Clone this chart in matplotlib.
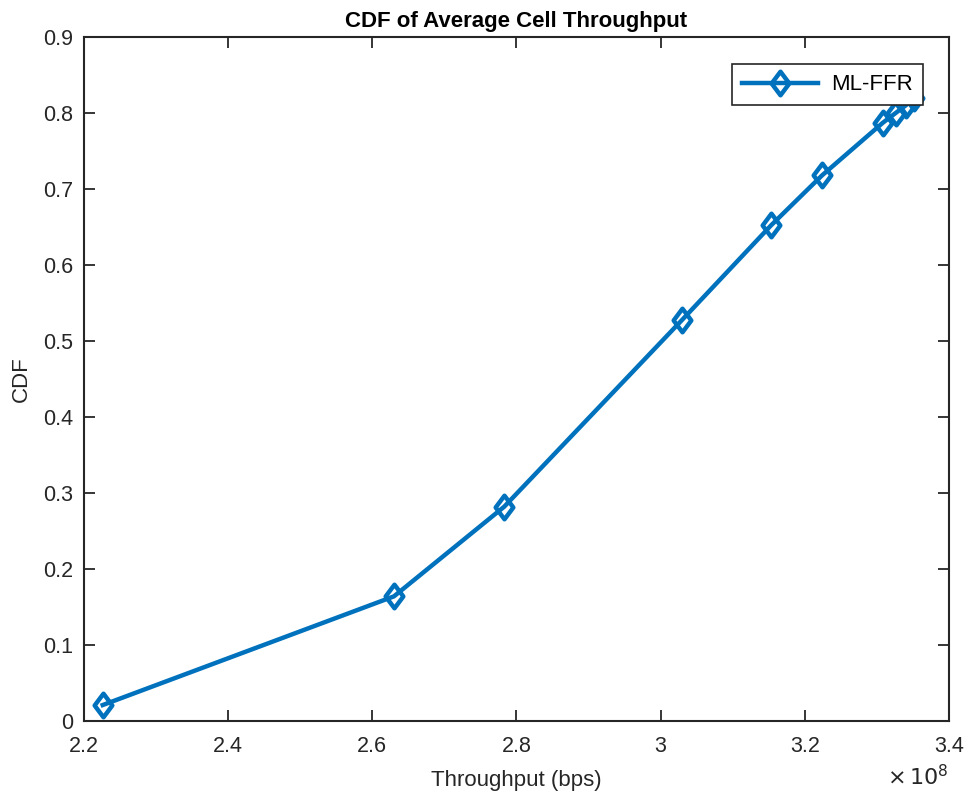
import numpy as np
import matplotlib
matplotlib.use("Agg")
import matplotlib.pyplot as plt
from matplotlib.path import Path

# throughput in units of 1e8 bps
throughput = [2.226, 2.630, 2.783, 3.030, 3.153, 3.224, 3.308, 3.326, 3.340, 3.352]
cdf = [0.021, 0.164, 0.282, 0.528, 0.652, 0.718, 0.787, 0.800, 0.810, 0.820]
xticks = [2.2, 2.4, 2.6, 2.8, 3.0, 3.2, 3.4]
xticklabels = ["2.2", "2.4", "2.6", "2.8", "3", "3.2", "3.4"]
yticks = [0, 0.1, 0.2, 0.3, 0.4, 0.5, 0.6, 0.7, 0.8, 0.9]
yticklabels = ["0", "0.1", "0.2", "0.3", "0.4", "0.5", "0.6", "0.7", "0.8", "0.9"]

plt.rcParams['font.family'] = ['Liberation Sans', 'DejaVu Sans']

# diamond a bit taller than wide, like the MATLAB one
diamond = Path([(0, 1), (0.75, 0), (0, -1), (-0.75, 0), (0, 1)],
               [Path.MOVETO, Path.LINETO, Path.LINETO, Path.LINETO, Path.CLOSEPOLY])

fig = plt.figure(figsize=(9.71, 7.98), dpi=100)
ax = fig.add_axes([0.0865, 0.0965, 0.8908, 0.8571])

ax.plot(throughput, cdf, color='#0072BD', lw=3.2, marker=diamond, ms=17,
        mfc='none', mew=3.2, label='ML-FFR', zorder=3)

ax.set_xlim(2.2, 3.4)
ax.set_ylim(0, 0.9)
ax.set_xticks(xticks)
ax.set_xticklabels(xticklabels)
ax.set_yticks(yticks)
ax.set_yticklabels(yticklabels)
ax.tick_params(direction='in', length=8, width=1.3, top=True, right=True,
               labelsize=15.5, colors='#262626')
ax.tick_params(axis='x', pad=11)
ax.tick_params(axis='y', pad=8)
for s in ax.spines.values():
    s.set_linewidth(1.5)
    s.set_color('#262626')

ax.set_xlabel('Throughput (bps)', fontsize=16, color='#262626', labelpad=9)
ax.set_ylabel('CDF', fontsize=16, color='#262626', labelpad=8)
ax.set_title('CDF of Average Cell Throughput', fontsize=16, fontweight='bold', pad=7)
ax.text(1.0, -0.065, r'$\times\,10^{8}$', transform=ax.transAxes, ha='right',
        va='top', fontsize=16, color='#262626')

leg = ax.legend(loc='upper right', bbox_to_anchor=(0.970, 0.960), borderaxespad=0,
                fontsize=16, fancybox=False, framealpha=1, edgecolor='#262626',
                handlelength=3.4, borderpad=0.45, handletextpad=0.6)
leg.get_frame().set_linewidth(1.2)
leg.set_zorder(5)

fig.savefig('out.png', dpi=100)
